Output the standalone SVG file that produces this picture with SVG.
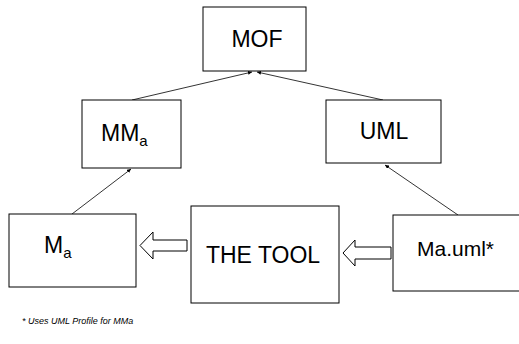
<svg xmlns="http://www.w3.org/2000/svg" width="519" height="344" viewBox="0 0 519 344">
<defs>
<style>
.box{fill:#fff;stroke:#000;stroke-width:1}
.t{font-family:"Liberation Sans",Arial,sans-serif;fill:#000}
.big{font-size:23px}
.sub{font-size:15px}
.conn{stroke:#000;stroke-width:0.8;fill:none}
.blk{fill:#fff;stroke:#000;stroke-width:1}
</style>
<marker id="ah" viewBox="0 0 6 6" refX="6" refY="3" markerWidth="4" markerHeight="4" markerUnits="userSpaceOnUse" orient="auto">
<path d="M0,0 L6,3 L0,6 z" fill="#000"/>
</marker>
</defs>
<rect width="519" height="344" fill="#fff"/>
<g id="connectors">
<line class="conn" x1="132" y1="100" x2="252" y2="72" marker-end="url(#ah)"/>
<line class="conn" x1="383" y1="100" x2="257" y2="72" marker-end="url(#ah)"/>
<line class="conn" x1="72" y1="214" x2="131" y2="169" marker-end="url(#ah)"/>
<line class="conn" x1="458" y1="215" x2="385" y2="165" marker-end="url(#ah)"/>
<path class="blk" d="M187,240 L153,240 L153,232 L140,245.5 L153,259 L153,251 L187,251 Z"/>
<path class="blk" d="M391,247 L355,247 L355,240 L343,253 L355,266 L355,259 L391,259 Z"/>
</g>
<g id="mof">
<rect class="box" x="203" y="7" width="103" height="64"/>
<text class="t big" x="257" y="47" text-anchor="middle">MOF</text>
</g>
<g id="mma">
<rect class="box" x="82" y="100" width="99" height="68"/>
<text class="t big" x="101" y="141">MM<tspan class="sub" dy="5">a</tspan></text>
</g>
<g id="uml">
<rect class="box" x="326" y="100" width="115" height="63"/>
<text class="t big" x="384" y="139" text-anchor="middle">UML</text>
</g>
<g id="ma">
<rect class="box" x="9" y="214" width="127" height="73"/>
<text class="t big" x="44" y="253">M<tspan class="sub" dy="5">a</tspan></text>
</g>
<g id="tool">
<rect class="box" x="191" y="206" width="148" height="97"/>
<text class="t big" x="263" y="263" text-anchor="middle">THE TOOL</text>
</g>
<g id="mauml">
<rect class="box" x="393" y="215" width="130" height="76"/>
<text class="t" style="font-size:21px" x="417" y="256">Ma.uml*</text>
</g>
<text class="t" style="font-size:9px;font-style:italic" x="22" y="324">* Uses UML Profile for MMa</text>
</svg>
